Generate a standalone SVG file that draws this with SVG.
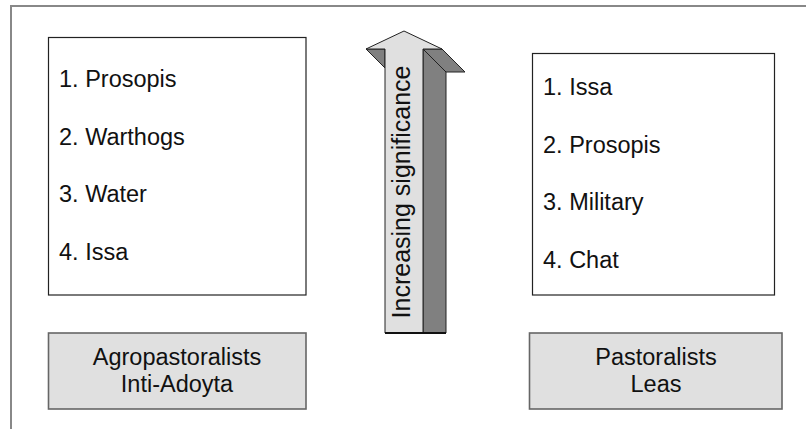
<svg xmlns="http://www.w3.org/2000/svg" width="806" height="429" viewBox="0 0 806 429">
<style>
.frame{stroke:#888;stroke-width:2;fill:none}
.list{fill:#fff;stroke:#222;stroke-width:1.2}
.label{fill:#e0e0e0;stroke:#666;stroke-width:1.6}
text{font-family:"Liberation Sans",Arial,sans-serif;fill:#111}
.t{font-size:23.5px}
.c{text-anchor:middle}
.front{fill:#e0e0e0;stroke:#222;stroke-width:1}
.dark{fill:#808080;stroke:#222;stroke-width:1;stroke-linejoin:miter}
</style>
<rect width="806" height="429" fill="#fff"/>
<g id="frame">
<line class="frame" x1="10" y1="6" x2="806" y2="6"/>
<line class="frame" x1="11" y1="6" x2="11" y2="429"/>
</g>
<g id="list-agro">
<rect class="list" x="48.5" y="37.5" width="257.5" height="257.5"/>
<text class="t" x="59" y="87">1. Prosopis</text>
<text class="t" x="59" y="144.5">2. Warthogs</text>
<text class="t" x="59" y="202">3. Water</text>
<text class="t" x="59" y="259.5">4. Issa</text>
</g>
<g id="list-past">
<rect class="list" x="532.5" y="53.5" width="242" height="241.5"/>
<text class="t" x="543" y="95">1. Issa</text>
<text class="t" x="543" y="152.5">2. Prosopis</text>
<text class="t" x="543" y="210">3. Military</text>
<text class="t" x="543" y="267.5">4. Chat</text>
</g>
<g id="label-agro">
<rect class="label" x="48.5" y="333" width="257.5" height="76"/>
<text class="t c" x="177" y="365">Agropastoralists</text>
<text class="t c" x="177" y="392">Inti-Adoyta</text>
</g>
<g id="label-past">
<rect class="label" x="529.5" y="333" width="252.5" height="76"/>
<text class="t c" x="656" y="365">Pastoralists</text>
<text class="t c" x="656" y="392">Leas</text>
</g>
<g id="arrow">
<polygon class="dark" points="423,49 442,49 465,72 446,72 446,333 423,333"/>
<line x1="423" y1="49" x2="446" y2="72" stroke="#222" stroke-width="1"/>
<polygon class="dark" points="366,49 385,49 385,68"/>
<polygon class="front" points="404,31 442,49 423,49 423,333 385,333 385,49 366,49"/>
<line x1="385" y1="333" x2="446" y2="333" stroke="#111" stroke-width="2"/>
<text transform="translate(409.5,192) rotate(-90)" class="c" style="font-size:25px">Increasing significance</text>
</g>
</svg>
